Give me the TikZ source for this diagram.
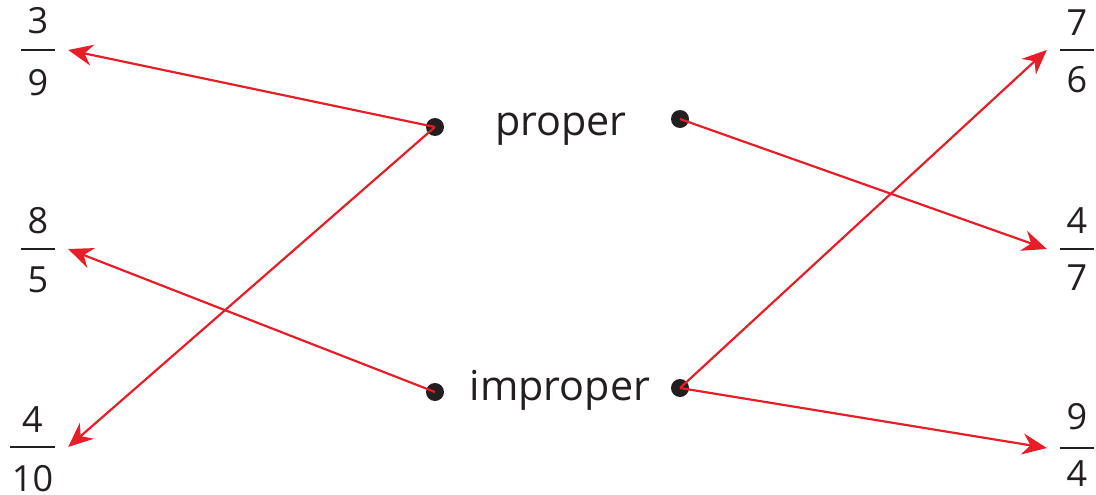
\documentclass[tikz,border=0pt]{standalone}
\usepackage{fontspec}
\setmainfont{Open Sans}
\usepackage{xcolor}
\usetikzlibrary{arrows.meta, positioning}

\definecolor{linkred}{RGB}{230,30,40}
\definecolor{ink}{RGB}{35,31,32}

\begin{document}
\begin{tikzpicture}[
        x=0.02cm, y=-0.02cm,
        dot/.style={circle, fill=ink, minimum size=0.36cm, inner sep=0},
        word/.style={font=\fontsize{23.5}{28}\selectfont, text=ink, anchor=base, inner sep=0},
        fbar/.style={fill=ink, minimum width=0.68cm, minimum height=0.04cm, inner sep=0, outer xsep=7.5pt},
        digit/.style={font=\fontsize{20.5}{24}\selectfont, text=ink, inner sep=0, text depth=0pt},
        link/.style={-{Stealth[length=14pt, width=12pt]}, line width=1.25pt, draw=linkred}
    ]
        \useasboundingbox (0,0) rectangle (1096,494);

        % the two words and their dots
        \node[word] (proper) at (561,135) {proper};
        \node[word] (improper) at (560,400) {improper};
        \node[dot] (dpl) at (435,127) {};
        \node[dot] (dpr) at (680,119) {};
        \node[dot] (dil) at (435,392) {};
        \node[dot] (dir) at (680,388) {};

        % fractions on the left
        \node[fbar] (b39) at (38,50) {};
        \node[digit, above=0.3cm of b39] (n3) {3};
        \node[digit, below=0.36cm of b39] (d9) {9};
        \node[fbar] (b85) at (38,249) {};
        \node[digit, above=0.28cm of b85] (n8) {8};
        \node[digit, below=0.32cm of b85] (d5) {5};
        \node[fbar, minimum width=0.9cm] (b410) at (32.5,447) {};
        \node[digit, above=0.26cm of b410] (n4) {4};
        \node[digit, below=0.34cm of b410] (d10) {10};

        % fractions on the right
        \node[fbar] (b76) at (1077,50) {};
        \node[digit, above=0.26cm of b76] (n7) {7};
        \node[digit, below=0.3cm of b76] (d6) {6};
        \node[fbar] (b47) at (1077,249) {};
        \node[digit, above=0.28cm of b47] (n4r) {4};
        \node[digit, below=0.28cm of b47] (d7) {7};
        \node[fbar] (b94) at (1077,448) {};
        \node[digit, above=0.34cm of b94] (n9) {9};
        \node[digit, below=0.22cm of b94] (d4) {4};

        % proper links
        \draw[link] (dpl.center) -- (b39.east);
        \draw[link] (dpl.center) -- (b410.east);
        \draw[link] (dpr.center) -- (b47.west);

        % improper links
        \draw[link] (dil.center) -- (b85.east);
        \draw[link] (dir.center) -- (b76.west);
        \draw[link] (dir.center) -- (b94.west);

    \end{tikzpicture}
\end{document}
